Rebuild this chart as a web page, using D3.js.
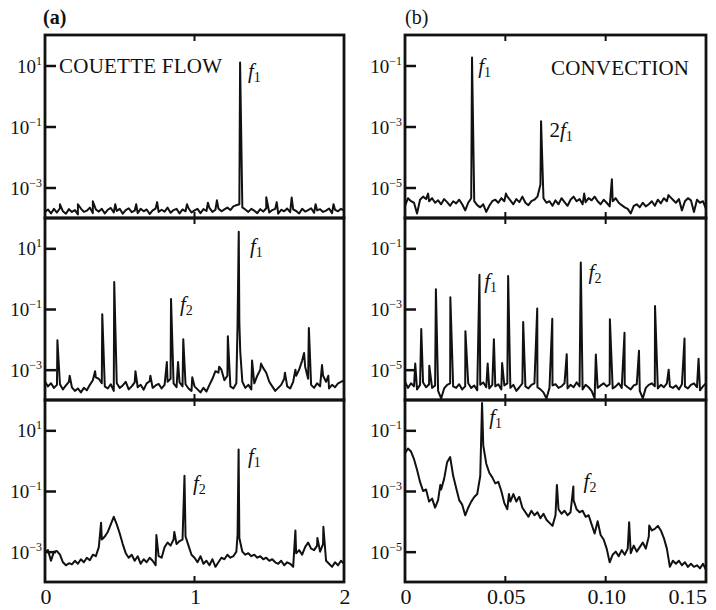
<!DOCTYPE html>
<html>
<head>
<meta charset="utf-8">
<script src="https://cdn.jsdelivr.net/npm/d3@7"></script>
<style>
  body { margin: 0; background: #fff; }
  text { font-family: 'Liberation Serif', 'Times New Roman', serif; fill: #111; }
</style>
</head>
<body>
<div id="graph"></div>
<script>
// spectra: log10 of the power, on a uniform frequency grid
var stepA = 0.02;    // couette flow, f = 0 .. 2
var stepB = 0.0015;  // convection, f = 0 .. 0.15

var couetteTop = [
  -3.80,-3.72,-3.85,-3.70,-3.82,-3.68,-3.78,-3.86,-3.71,-3.80,
  -3.74,-3.88,-3.69,-3.80,-3.76,-3.66,-3.84,-3.72,-3.79,-3.70,
  -3.85,-3.73,-3.67,-3.82,-3.77,-3.70,-3.86,-3.74,-3.68,-3.81,
  -3.76,-3.84,-3.70,-3.78,-3.72,-3.87,-3.75,-3.69,-3.80,-3.73,
  -3.79,-3.66,-3.83,-3.74,-3.70,-3.85,-3.72,-3.78,-3.68,-3.82,
  -3.75,-3.70,-3.84,-3.71,-3.77,-3.67,-3.80,-3.73,-3.69,-3.78,
  -3.72,-3.66,-3.74,-3.62,-3.58,-3.55,-3.65,-3.72,-3.80,-3.70,
  -3.76,-3.84,-3.71,-3.79,-3.68,-3.82,-3.74,-3.70,-3.86,-3.73,
  -3.78,-3.69,-3.81,-3.72,-3.77,-3.85,-3.70,-3.79,-3.74,-3.68,
  -3.83,-3.75,-3.71,-3.80,-3.76,-3.69,-3.84,-3.73,-3.78,-3.70,
  -3.76
];
var couetteMid = [
  -3.40,-3.55,-3.45,-3.60,-3.50,-3.48,-3.65,-3.52,-3.40,-3.58,
  -3.70,-3.62,-3.75,-3.60,-3.68,-3.50,-3.35,-3.25,-3.30,-3.45,
  -3.55,-3.62,-3.48,-3.70,-3.45,-3.60,-3.52,-3.40,-3.65,-3.55,
  -3.42,-3.58,-3.50,-3.66,-3.45,-3.38,-3.60,-3.52,-3.47,-3.62,
  -3.50,-3.40,-3.30,-3.45,-3.58,-3.42,-3.55,-3.48,-3.62,-3.70,
  -3.55,-3.65,-3.75,-3.60,-3.72,-3.50,-3.30,-3.05,-3.10,-3.00,
  -3.35,-3.20,-3.55,-3.62,-3.45,-1.45,-3.40,-3.60,-3.50,-3.65,
  -3.45,-3.20,-3.00,-2.95,-3.10,-3.40,-3.55,-3.70,-3.60,-3.50,
  -3.30,-3.55,-3.62,-3.40,-3.20,-3.00,-2.70,-2.90,-3.30,-3.50,
  -3.60,-3.45,-3.55,-3.20,-3.40,-3.62,-3.50,-3.58,-3.45,-3.40,
  -3.35
];
var couetteBot = [
  -3.00,-2.95,-3.30,-3.00,-2.98,-3.10,-3.35,-3.45,-3.38,-3.42,
  -3.30,-3.40,-3.25,-3.35,-3.20,-3.28,-3.10,-3.15,-2.85,-2.60,
  -2.50,-2.35,-2.10,-1.85,-2.10,-2.40,-2.75,-3.05,-3.20,-3.10,
  -3.30,-3.15,-3.40,-3.25,-3.35,-3.20,-3.30,-3.45,-3.15,-3.20,
  -2.85,-2.70,-2.80,-2.60,-2.75,-2.65,-2.60,-2.50,-2.80,-3.10,
  -3.20,-3.35,-3.15,-3.40,-3.30,-3.45,-3.25,-3.50,-3.35,-3.20,
  -3.25,-3.10,-3.20,-3.15,-3.00,-2.55,-3.00,-3.10,-3.05,-3.15,
  -3.10,-3.20,-3.15,-3.25,-3.20,-3.30,-3.25,-3.35,-3.40,-3.30,
  -3.45,-3.35,-3.40,-3.50,-3.05,-2.95,-3.10,-2.85,-2.70,-2.90,
  -2.95,-2.80,-3.00,-2.75,-3.30,-3.40,-3.50,-3.35,-3.45,-3.30,
  -3.40
];
var convTop = [
  -5.60,-5.35,-5.45,-5.50,-5.85,-5.40,-5.30,-5.38,-5.45,-5.35,
  -5.50,-5.42,-5.55,-5.38,-5.48,-5.60,-5.45,-5.52,-5.40,-5.55,
  -5.75,-5.50,-5.35,-5.45,-5.58,-5.65,-5.55,-5.80,-5.60,-5.45,
  -5.40,-5.50,-5.35,-5.45,-5.30,-5.42,-5.55,-5.38,-5.48,-5.30,
  -5.50,-5.58,-5.45,-5.40,-5.30,-4.90,-5.35,-5.50,-5.45,-5.60,
  -5.42,-5.55,-5.35,-5.48,-5.60,-5.40,-5.30,-5.45,-5.38,-5.55,
  -5.48,-5.35,-5.42,-5.30,-5.45,-5.55,-5.40,-5.50,-5.62,-5.45,
  -5.35,-5.50,-5.58,-5.65,-5.70,-5.85,-5.60,-5.55,-5.65,-5.50,
  -5.62,-5.55,-5.45,-5.60,-5.40,-5.52,-5.35,-5.45,-5.30,-5.40,
  -5.50,-5.38,-5.75,-5.45,-5.35,-5.42,-5.80,-5.40,-5.50,-5.45,
  -5.70
];
var convMid = [
  -5.40,-5.60,-5.45,-5.55,-5.65,-5.50,-5.42,-5.58,-5.48,-5.60,
  -5.52,-5.70,-5.95,-5.62,-5.50,-5.45,-5.55,-5.60,-5.48,-5.65,
  -5.55,-5.45,-5.60,-5.52,-5.68,-5.50,-5.42,-5.58,-5.62,-5.50,
  -5.55,-5.48,-5.65,-5.52,-5.45,-5.60,-5.50,-5.70,-5.58,-5.45,
  -5.55,-5.62,-5.50,-5.45,-5.58,-5.65,-5.75,-5.95,-5.60,-5.52,
  -5.48,-5.60,-5.55,-5.45,-5.62,-5.50,-5.58,-5.42,-5.55,-5.65,
  -5.50,-5.58,-5.70,-5.95,-5.60,-5.52,-5.45,-5.55,-5.48,-5.62,
  -5.55,-5.45,-5.60,-5.50,-5.58,-5.65,-5.52,-5.48,-5.70,-5.95,
  -5.60,-5.50,-5.45,-5.55,-5.62,-5.50,-5.58,-5.45,-5.55,-5.60,
  -5.52,-5.65,-5.48,-5.55,-5.62,-5.50,-5.45,-5.58,-5.68,-5.55,
  -5.45
];
var convBot = [
  -1.75,-1.60,-1.70,-1.95,-2.30,-2.70,-3.00,-2.95,-3.35,-3.25,
  -3.55,-3.30,-2.95,-2.60,-2.05,-1.88,-2.50,-2.90,-3.30,-3.45,
  -3.80,-3.55,-3.35,-3.20,-3.10,-2.50,-1.50,-2.10,-2.40,-2.55,
  -2.75,-2.70,-3.00,-3.40,-3.60,-3.35,-3.10,-3.35,-3.20,-3.55,
  -3.70,-3.85,-3.65,-3.80,-3.70,-3.90,-3.75,-3.95,-4.05,-4.15,
  -3.80,-3.60,-3.75,-3.65,-3.80,-3.70,-3.30,-3.60,-3.70,-3.65,
  -3.85,-3.80,-4.10,-4.40,-4.00,-4.45,-4.60,-4.90,-5.35,-5.10,
  -5.00,-5.15,-4.95,-5.10,-4.90,-5.05,-4.80,-5.00,-4.85,-4.70,
  -4.90,-4.50,-4.30,-4.25,-4.15,-4.30,-4.55,-4.90,-5.50,-5.30,
  -5.40,-5.30,-5.45,-5.35,-5.50,-5.40,-5.50,-5.45,-5.55,-5.40,
  -5.60
];

// sharp spectral lines: [frequency, log10 power]
var couetteTopPeaks = [[0.10,-3.55],[0.22,-3.55],[0.32,-3.45],[0.47,-3.55],[0.61,-3.55],
  [0.75,-3.48],[0.95,-3.55],[1.09,-3.5],[1.15,-3.42],[1.305,1.1],[1.48,-3.32],
  [1.55,-3.48],[1.65,-3.33],[1.81,-3.55],[1.93,-3.55]];
var couetteMidPeaks = [[0.083,-2.03],[0.165,-3.2],[0.335,-3.05],[0.383,-1.17],[0.463,-0.11],
  [0.605,-3.05],[0.705,-3.2],[0.815,-2.75],[0.843,-0.67],[0.89,-2.75],[0.925,-2.0],
  [0.985,-3.25],[1.165,-2.9],[1.223,-1.9],[1.288,-1.5],[1.296,1.55],[1.306,-2.4],
  [1.385,-2.7],[1.445,-2.8],[1.605,-3.1],[1.675,-3.0],[1.733,-2.45],[1.765,-1.63],
  [1.853,-2.85],[1.895,-3.2]];
var couetteBotPeaks = [[0.375,-2.05],[0.745,-2.45],[0.865,-2.35],[0.933,-0.5],[1.288,-2.45],
  [1.295,0.37],[1.675,-2.3],[1.822,-2.55],[1.862,-2.18]];
var convTopPeaks = [[0.0115,-5.2],[0.0334,-0.74],[0.0503,-5.2],[0.0678,-2.83],[0.0893,-5.2],
  [0.1031,-4.73],[0.1313,-5.25]];
var convMidPeaks = [[0.0051,-4.8],[0.0081,-3.66],[0.0121,-4.87],[0.0154,-2.35],[0.0226,-2.61],
  [0.0301,-3.73],[0.0371,-1.87],[0.0412,-4.8],[0.0443,-4.0],[0.0484,-4.78],[0.0514,-1.91],
  [0.0589,-3.43],[0.0659,-2.98],[0.0734,-3.32],[0.0806,-4.49],[0.0876,-1.47],[0.0951,-4.5],
  [0.1021,-3.34],[0.1094,-3.78],[0.1166,-4.38],[0.1246,-2.9],[0.1314,-5.0],[0.1393,-3.97],
  [0.1463,-4.64]];
var convBotPeaks = [[0.0176,-2.8],[0.0384,-0.1],[0.0518,-3.1],[0.0568,-3.2],[0.0757,-2.8],
  [0.0839,-2.85],[0.1117,-4.03],[0.1217,-4.14]];

// line labels: [prefix, subscript, frequency, log10 power]
var couetteTopLabels = [['f', '1', 1.358, 0.59]];
var couetteMidLabels = [['f', '1', 1.371, 0.85], ['f', '2', 0.903, -1.07]];
var couetteBotLabels = [['f', '1', 1.358, -0.08], ['f', '2', 0.99, -0.97]];
var convTopLabels = [['f', '1', 0.0365, -1.25], ['2f', '1', 0.072, -3.33]];
var convMidLabels = [['f', '1', 0.0395, -2.31], ['f', '2', 0.0915, -2.01]];
var convBotLabels = [['f', '1', 0.042, -0.79], ['f', '2', 0.089, -2.9]];

// axes
var tickExpA = [1, -1, -3];
var tickExpB = [-1, -3, -5];
var xTicksA = [0, 1, 2];
var xTickLabelsA = ['0', '1', '2'];
var xTicksB = [0, 0.05, 0.10, 0.15];
var xTickLabelsB = ['0', '0.05', '0.10', '0.15'];

// page layout
var chart_width = 716;
var chart_height = 610;
var rowEdges = [35, 218, 400, 582];

var svg = d3
  .select('#graph')
  .append('svg')
  .attr('width', chart_width)
  .attr('height', chart_height);

var xA = d3.scaleLinear().domain([0, 2]).range([45, 344]);
var xB = d3.scaleLinear().domain([0, 0.15]).range([405, 706]);

var columns = [
  { x: xA, step: stepA, low: 1e-4, high: 1e2, ticks: tickExpA, xt: xTicksA.slice(1, -1),
    rows: [[couetteTop, couetteTopPeaks, couetteTopLabels],
           [couetteMid, couetteMidPeaks, couetteMidLabels],
           [couetteBot, couetteBotPeaks, couetteBotLabels]] },
  { x: xB, step: stepB, low: 1e-6, high: 1, ticks: tickExpB, xt: xTicksB.slice(1, -1),
    rows: [[convTop, convTopPeaks, convTopLabels],
           [convMid, convMidPeaks, convMidLabels],
           [convBot, convBotPeaks, convBotLabels]] }
];

// put the sharp lines in among the grid samples
var spectrum = function (values, step, peaks) {
  var pts = values.map(function (v, i) {
    return { f: i * step, p: Math.pow(10, v) };
  });
  peaks.forEach(function (d) {
    pts.push({ f: d[0], p: Math.pow(10, d[1]) });
  });
  pts.sort(function (a, b) { return a.f - b.f; });
  return pts;
};

columns.forEach(function (col, c) {
  var x = col.x;
  var x0 = x.range()[0], x1 = x.range()[1];

  col.rows.forEach(function (row, r) {
    var top = rowEdges[r], bottom = rowEdges[r + 1];
    var y = d3.scaleLog().domain([col.low, col.high]).range([bottom, top]);
    var g = svg.append('g');

    var clipId = 'clip-' + c + '-' + r;
    svg.append('clipPath').attr('id', clipId)
      .append('rect')
      .attr('x', x0).attr('y', top)
      .attr('width', x1 - x0).attr('height', bottom - top);

    var line = d3.line()
      .x(function (d) { return x(d.f); })
      .y(function (d) { return y(d.p); });

    g.append('path')
      .datum(spectrum(row[0], col.step, row[1]))
      .attr('clip-path', 'url(#' + clipId + ')')
      .attr('fill', 'none')
      .attr('stroke', '#111')
      .attr('stroke-width', 2)
      .attr('stroke-linejoin', 'round')
      .attr('d', line);

    // inward ticks on the left
    var y_axis = d3.axisLeft(y)
      .tickValues(col.ticks.map(function (e) { return Math.pow(10, e); }))
      .tickSizeInner(-11)
      .tickSizeOuter(0)
      .tickFormat('');
    var ax = g.append('g')
      .attr('transform', 'translate(' + x0 + ',0)')
      .call(y_axis);
    ax.select('.domain').remove();
    ax.selectAll('line').attr('stroke', '#111').attr('stroke-width', 2.5);

    // 10^n labels
    col.ticks.forEach(function (e) {
      var t = g.append('text')
        .attr('x', x0 - 3)
        .attr('y', y(Math.pow(10, e)) + 7)
        .attr('text-anchor', 'end')
        .style('font-size', '19px');
      t.append('tspan').text('10');
      t.append('tspan')
        .attr('dy', -8)
        .style('font-size', '12px')
        .text(e < 0 ? '\u2212' + (-e) : String(e));
    });

    // small inward x ticks top and bottom
    col.xt.forEach(function (v) {
      g.append('line')
        .attr('x1', x(v)).attr('x2', x(v))
        .attr('y1', top).attr('y2', top + 6)
        .attr('stroke', '#111').attr('stroke-width', 2);
      g.append('line')
        .attr('x1', x(v)).attr('x2', x(v))
        .attr('y1', bottom).attr('y2', bottom - 6)
        .attr('stroke', '#111').attr('stroke-width', 2);
    });

    // f labels
    row[2].forEach(function (d) {
      var t = g.append('text')
        .attr('x', x(d[2]))
        .attr('y', y(Math.pow(10, d[3])))
        .style('font-size', '21px');
      if (d[0].length > 1) {
        t.append('tspan').text(d[0].slice(0, -1));
      }
      t.append('tspan').style('font-style', 'italic').text('f');
      t.append('tspan')
        .attr('dy', 4)
        .style('font-size', '14px')
        .text(d[1]);
    });

    // frame
    g.append('rect')
      .attr('x', x0).attr('y', top)
      .attr('width', x1 - x0).attr('height', bottom - top)
      .attr('fill', 'none')
      .attr('stroke', '#111')
      .attr('stroke-width', 2.8);
  });
});

// bottom tick labels
var addXLabels = function (x, vals, labels) {
  vals.forEach(function (v, i) {
    var last = i === vals.length - 1 && x === xB;
    svg.append('text')
      .attr('x', last ? x(v) + 1 : x(v) + 1)
      .attr('y', 604)
      .attr('text-anchor', last ? 'end' : 'middle')
      .style('font-size', '22px')
      .text(labels[i]);
  });
};
addXLabels(xA, xTicksA, xTickLabelsA);
addXLabels(xB, xTicksB, xTickLabelsB);

// panel letters and titles
svg.append('text').attr('x', 43).attr('y', 24)
  .style('font-size', '20px').style('font-weight', 'bold').text('(a)');
svg.append('text').attr('x', 405).attr('y', 24)
  .style('font-size', '20px').text('(b)');
svg.append('text').attr('x', 59).attr('y', 73)
  .attr('textLength', 163).attr('lengthAdjust', 'spacing')
  .style('font-size', '21px').text('COUETTE FLOW');
svg.append('text').attr('x', 551).attr('y', 75)
  .attr('textLength', 138).attr('lengthAdjust', 'spacing')
  .style('font-size', '21px').text('CONVECTION');
</script>
</body>
</html>
